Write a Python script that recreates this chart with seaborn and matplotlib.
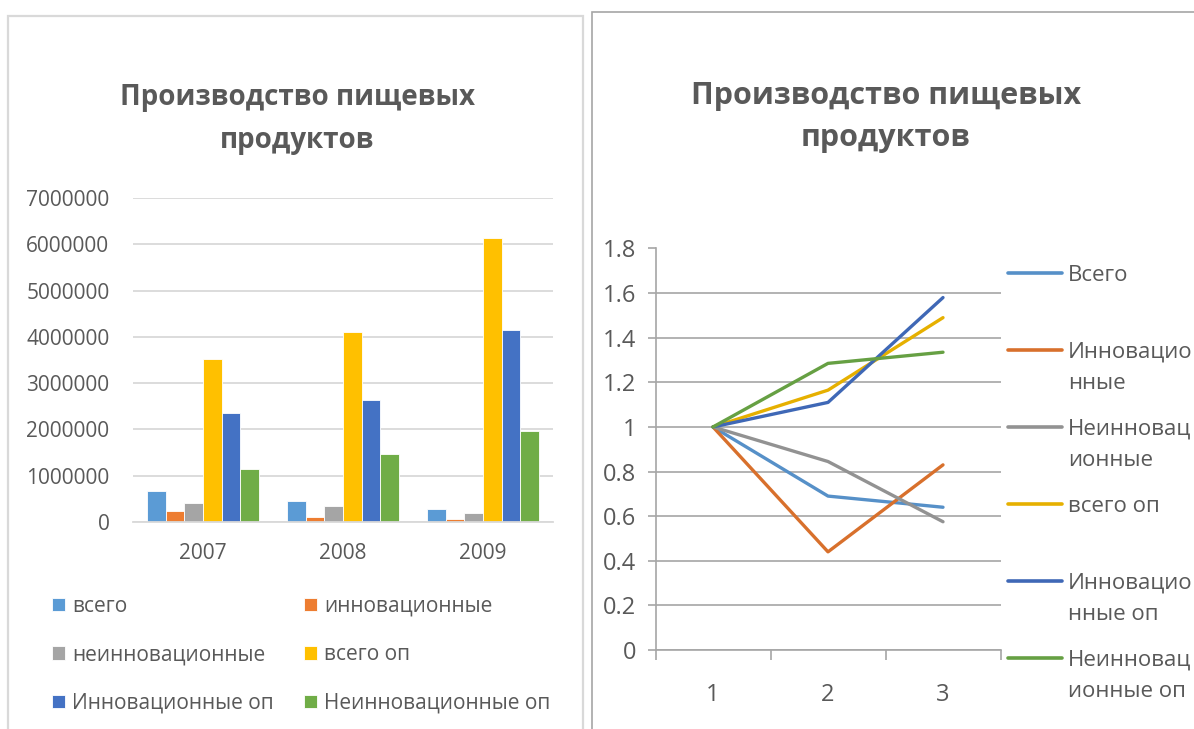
import pandas as pd
import matplotlib.pyplot as plt
import seaborn as sns
from matplotlib.lines import Line2D
from matplotlib.patches import Rectangle

# Data
years = ['2007', '2008', '2009']
bar_series = ['всего', 'инновационные', 'неинновационные',
              'всего оп', 'Инновационные оп', 'Неинновационные оп']
vsego = [660000, 445000, 280000]
innov = [240000, 100000, 70000]
neinnov = [400000, 350000, 190000]
vsego_op = [3520000, 4100000, 6130000]
innov_op = [2360000, 2630000, 4150000]
neinnov_op = [1140000, 1460000, 1960000]
bar_values = [vsego, innov, neinnov, vsego_op, innov_op, neinnov_op]

steps = [1, 2, 3]
line_series = ['Всего', 'Инновационные', 'Неинновационные',
               'всего оп', 'Инновационные оп', 'Неинновационные оп']
l_vsego = [1.0, 0.69, 0.64]
l_innov = [1.0, 0.44, 0.83]
l_neinnov = [1.0, 0.845, 0.575]
l_vsego_op = [1.0, 1.165, 1.49]
l_innov_op = [1.0, 1.11, 1.58]
l_neinnov_op = [1.0, 1.285, 1.335]
line_values = [l_vsego, l_innov, l_neinnov, l_vsego_op, l_innov_op, l_neinnov_op]

title = 'Производство пищевых\nпродуктов'
bar_colors = ['#5B9BD5', '#ED7D31', '#A5A5A5', '#FFC000', '#4472C4', '#70AD47']
line_colors = ['#5690C8', '#D8702C', '#929292', '#E6B000', '#3F68B6', '#66A043']
TXT = '#595959'

bar_df = pd.DataFrame({
    'year': years * len(bar_series),
    'series': [s for s in bar_series for _ in years],
    'value': [v for vals in bar_values for v in vals],
})
line_df = pd.DataFrame({
    'step': steps * len(line_series),
    'series': [s for s in line_series for _ in steps],
    'value': [v for vals in line_values for v in vals],
})

sns.set_theme(style='white')
plt.rcParams['font.family'] = ['Open Sans', 'DejaVu Sans']

W, H = 1194, 729
fig = plt.figure(figsize=(W / 100, H / 100), dpi=100)

# panel frames
fig.add_artist(Rectangle((8 / W, -0.1), 575 / W, (H - 16) / H + 0.1, fill=False,
                         ec='#d9d9d9', lw=1.6, transform=fig.transFigure))
fig.add_artist(Rectangle((592 / W, -0.1), 0.6, (H - 12) / H + 0.1, fill=False,
                         ec='#a6a6a6', lw=1.2, transform=fig.transFigure))

# === left: bar chart ===
ax1 = fig.add_axes([133 / W, 1 - 522 / H, 420 / W, 324 / H])
sns.barplot(data=bar_df, x='year', y='value', hue='series', hue_order=bar_series,
            palette=bar_colors, saturation=1, width=0.8, edgecolor='white',
            linewidth=0.6, errorbar=None, ax=ax1)
ax1.set_ylim(0, 7000000)
ax1.set_xlim(-0.5, 2.5)
yt = list(range(0, 7000001, 1000000))
ax1.set_yticks(yt)
ax1.set_yticklabels([str(v) for v in yt])
ax1.yaxis.grid(True, color='#d9d9d9', lw=1.3)
ax1.set_axisbelow(True)
for s in ['top', 'right', 'left']:
    ax1.spines[s].set_visible(False)
ax1.spines['bottom'].set_color('#d9d9d9')
ax1.spines['bottom'].set_linewidth(1.3)
ax1.tick_params(axis='y', length=0, pad=17, labelsize=15, labelcolor=TXT)
ax1.tick_params(axis='x', length=0, pad=15, labelsize=15, labelcolor=TXT)
ax1.set_xlabel('')
ax1.set_ylabel('')
handles, labels = ax1.get_legend_handles_labels()
ax1.get_legend().remove()
order = [0, 2, 4, 1, 3, 5]
fig.legend([handles[i] for i in order], [labels[i] for i in order],
           ncol=2, loc='upper left', bbox_to_anchor=(52 / W, 1 - 596 / H),
           frameon=False, fontsize=15, labelcolor=TXT, handlelength=0.62,
           handleheight=0.62, handletextpad=0.35, labelspacing=1.32,
           columnspacing=1.45, borderpad=0, borderaxespad=0)
fig.text(297 / W, 1 - 119 / H, title, ha='center', va='center', fontsize=20,
         fontweight='bold', color=TXT, linespacing=1.6)

# === right: line chart ===
ax2 = fig.add_axes([655.5 / W, 1 - 650 / H, 345 / W, 401.5 / H])
sns.lineplot(data=line_df, x='step', y='value', hue='series', hue_order=line_series,
             palette=line_colors, linewidth=2.4, legend=False, ax=ax2)
ax2.set_xlim(0.5, 3.5)
ax2.set_ylim(0, 1.8)
ax2.set_yticks([round(0.2 * i, 1) for i in range(10)])
ax2.set_yticklabels(['0', '0.2', '0.4', '0.6', '0.8', '1', '1.2', '1.4', '1.6', '1.8'])
ax2.set_xticks(steps)
ax2.set_xticks([0.5, 1.5, 2.5, 3.5], minor=True)
ax2.yaxis.grid(True, color='#a6a6a6', lw=1.2)
ax2.set_axisbelow(True)
for s in ['top', 'right']:
    ax2.spines[s].set_visible(False)
for s in ['left', 'bottom']:
    ax2.spines[s].set_color('#a6a6a6')
    ax2.spines[s].set_linewidth(1.2)
ax2.tick_params(axis='y', length=6, width=1.2, color='#a6a6a6', pad=8,
                labelsize=17, labelcolor=TXT, left=True)
ax2.tick_params(axis='x', which='major', length=0, pad=24, labelsize=17, labelcolor=TXT)
ax2.tick_params(axis='x', which='minor', length=7, width=1.2, color='#a6a6a6',
                bottom=True, direction='out')
ax2.set_xlabel('')
ax2.set_ylabel('')
fig.text(886 / W, 1 - 117 / H, title, ha='center', va='center', fontsize=22,
         fontweight='bold', color=TXT, linespacing=1.55)

# legend of the line chart (Excel wraps the names at 9 letters)
for i, (name, col) in enumerate(zip(line_series, line_colors)):
    y = 1 - (273 + i * 77) / H
    fig.add_artist(Line2D([1008 / W, 1062 / W], [y, y], color=col, lw=2.6,
                          transform=fig.transFigure))
    shown = name if len(name) <= 9 else name[:9] + '\n' + name[9:]
    fig.text(1068 / W, y + 8 / H, shown, ha='left', va='top', fontsize=16,
             color=TXT, linespacing=1.65)

plt.savefig('out.png', dpi=100)
